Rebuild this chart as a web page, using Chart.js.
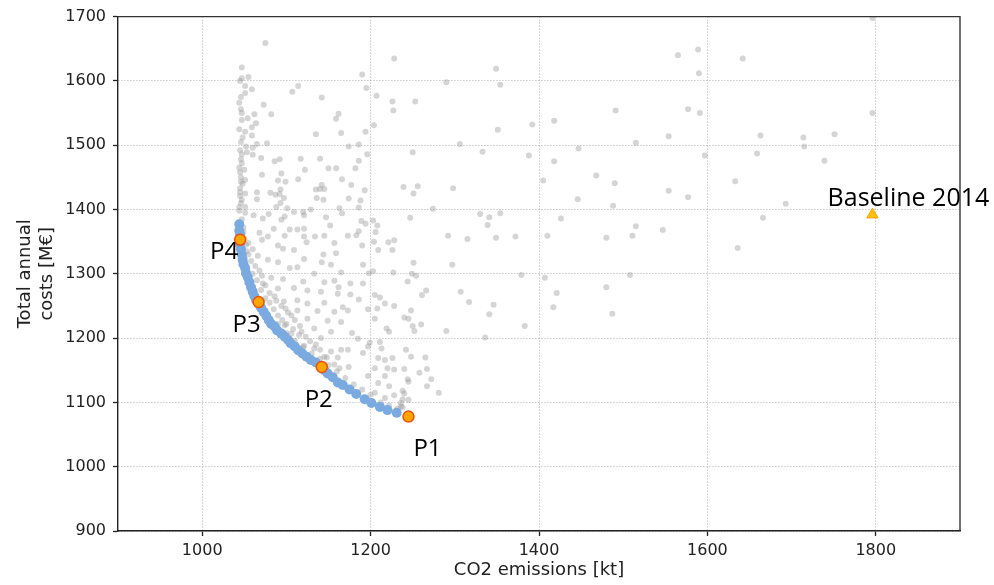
<!DOCTYPE html>
<html>
<head>
<meta charset="utf-8">
<script src="https://cdn.jsdelivr.net/npm/chart.js@4.4.1/dist/chart.umd.min.js"></script>
<style>
  body { margin: 0; background: #fff; }
</style>
</head>
<body>
<canvas id="chart" width="994" height="585"></canvas>
<script>
// ticks
var xTicks = [1000, 1200, 1400, 1600, 1800];
var yTicks = [900, 1000, 1100, 1200, 1300, 1400, 1500, 1600, 1700];

// highlighted solutions
var pLabels = ["P1", "P2", "P3", "P4"];
var pX = [1245, 1142, 1067, 1045];
var pY = [1078, 1155, 1256, 1353];

// baseline
var baseLabel = "Baseline 2014";
var baseX = [1796];
var baseY = [1392];

// pareto front
var paretoX = [1044, 1044, 1045, 1045, 1046, 1047, 1048, 1049, 1051, 1052, 1054, 1056, 1058, 1060, 1062, 1064,
  1068, 1070, 1073, 1076, 1079, 1082, 1086, 1089, 1094, 1098, 1102, 1105, 1110, 1114, 1119, 1124, 1129, 1135,
  1141, 1145, 1149, 1155, 1161, 1167, 1175, 1183, 1193, 1201, 1211, 1220, 1231];
var paretoY = [1377, 1367, 1361, 1346, 1338, 1330, 1322, 1315, 1309, 1301, 1295, 1287, 1279, 1272, 1265, 1259,
  1252, 1247, 1241, 1235, 1228, 1222, 1218, 1212, 1207, 1202, 1197, 1192, 1187, 1181, 1176, 1171, 1166, 1162,
  1156, 1150, 1145, 1139, 1131, 1127, 1120, 1113, 1105, 1099, 1093, 1088, 1084];

// all other evaluated solutions [CO2 kt, cost M€]
var others = [
  [1075,1659],[1047,1621],[1047,1604],[1055,1606],[1051,1592],[1059,1587],[1051,1581],[1114,1592],[1107,1583],
  [1142,1574],[1044,1566],[1073,1563],[1046,1556],[1062,1548],[1082,1548],[1054,1542],[1047,1539],[1064,1534],
  [1059,1528],[1051,1521],[1162,1549],[1159,1541],[1165,1519],[1135,1517],[1059,1515],[1046,1505],[1065,1502],
  [1077,1503],[1052,1498],[1060,1496],[1047,1486],[1053,1489],[1060,1485],[1070,1480],[1086,1475],[1092,1478],
  [1117,1479],[1140,1479],[1047,1472],[1122,1462],[1150,1464],[1159,1464],[1045,1458],[1050,1462],[1094,1456],
  [1071,1454],[1166,1447],[1090,1445],[1099,1443],[1114,1447],[1046,1443],[1051,1446],[1045,1433],[1142,1438],
  [1140,1432],[1145,1432],[1093,1431],[1065,1427],[1081,1426],[1087,1423],[1092,1424],[1045,1421],[1051,1425],
  [1065,1416],[1097,1418],[1136,1418],[1046,1410],[1093,1410],[1088,1404],[1044,1404],[1051,1404],[1101,1402],
  [1163,1402],[1079,1393],[1109,1396],[1120,1396],[1129,1400],[1051,1395],[1061,1391],[1072,1386],[1098,1389],
  [1121,1391],[1147,1388],[1166,1394],[1094,1384],[1152,1375],[1085,1370],[1104,1369],[1113,1369],[1049,1372],
  [1135,1431],[1144,1415],
  [1045,1600],[1046,1575],[1047,1550],[1044,1525],[1048,1512],[1045,1492],[1046,1478],[1044,1465],[1046,1450],
  [1048,1440],[1045,1427],[1047,1415],[1044,1398],[1047,1385],[1046,1378],[1049,1365],[1050,1355],[1052,1345],
  [1053,1335],
  [1121,1370],[1068,1364],[1078,1358],[1098,1359],[1121,1358],[1134,1358],[1145,1359],[1071,1353],[1090,1344],
  [1124,1349],[1157,1348],[1055,1348],[1060,1338],[1096,1339],[1109,1337],[1144,1330],[1121,1323],[1066,1328],
  [1078,1322],[1090,1318],[1142,1318],[1153,1314],[1104,1309],[1113,1310],[1133,1300],[1165,1302],[1071,1297],
  [1082,1294],[1096,1292],[1120,1288],[1145,1287],[1157,1289],[1075,1282],[1090,1277],[1109,1278],[1125,1274],
  [1141,1272],[1161,1269],[1086,1265],[1097,1257],[1113,1259],[1125,1254],[1145,1255],[1099,1246],[1113,1243],
  [1137,1242],[1157,1241],[1106,1235],[1125,1230],[1149,1227],[1165,1225],[1098,1220],[1116,1219],[1133,1215],
  [1153,1210],[1106,1207],[1123,1202],[1141,1200],[1121,1188],[1133,1184],[1153,1179],[1145,1171],[1161,1170],
  [1157,1159],
  [1060,1300],[1065,1290],[1070,1275],[1075,1262],[1080,1255],[1085,1245],[1090,1235],[1095,1228],[1100,1222],
  [1108,1214],[1115,1205],[1058,1320],[1055,1330],[1063,1312],[1068,1305],[1072,1285],[1080,1270],[1088,1258],
  [1094,1250],[1102,1240],[1110,1228],[1118,1210],[1128,1195],[1135,1190],[1140,1182],[1148,1170],
  [1090,1222],[1100,1208],[1110,1196],[1120,1186],[1130,1176],[1140,1168],[1150,1158],[1160,1148],[1170,1138],
  [1180,1128],[1190,1120],[1200,1112],[1212,1100],[1222,1095],[1232,1090],
  [1228,1635],[1190,1610],[1290,1598],[1195,1589],[1207,1577],[1226,1568],[1253,1568],[1227,1554],[1204,1531],
  [1194,1521],[1186,1501],[1174,1498],[1196,1486],[1250,1489],[1186,1476],[1182,1464],[1177,1438],[1193,1430],
  [1239,1435],[1256,1436],[1251,1425],[1298,1433],[1174,1417],[1188,1414],[1186,1403],[1274,1401],[1247,1387],
  [1189,1382],[1194,1378],[1203,1383],[1208,1375],[1186,1366],[1206,1365],
  [1173,1359],[1183,1360],[1204,1350],[1221,1349],[1228,1352],[1292,1359],[1190,1344],[1209,1337],[1226,1337],
  [1159,1332],[1251,1317],[1191,1314],[1198,1301],[1203,1304],[1227,1302],[1254,1297],[1249,1300],[1244,1288],
  [1266,1274],[1261,1267],[1297,1314],[1176,1285],[1191,1285],[1162,1279],[1176,1268],[1186,1260],[1205,1267],
  [1208,1246],[1211,1263],[1217,1254],[1228,1250],[1248,1243],[1245,1230],[1260,1221],[1252,1211],[1290,1211],
  [1167,1248],[1173,1243],[1197,1245],[1205,1230],[1219,1215],[1222,1210],[1178,1208],[1185,1199],[1199,1193],
  [1211,1194],[1213,1184],[1197,1187],[1173,1182],[1165,1182],[1191,1177],[1209,1169],[1217,1166],[1226,1169],
  [1242,1182],[1248,1171],[1265,1170],[1174,1155],[1163,1153],[1205,1153],[1220,1153],[1228,1151],[1240,1152],
  [1258,1146],[1267,1152],[1197,1141],[1217,1141],[1244,1136],[1272,1136],[1209,1130],[1222,1125],[1267,1125],
  [1228,1111],[1238,1118],[1281,1115],[1238,1105],[1217,1107],[1205,1115],[1236,1094],
  [1240,1232],[1250,1219],[1336,1201],[1245,1132],[1240,1114],[1245,1104],[1236,1099],[1238,1092],
  [1349,1619],[1354,1594],[1565,1640],[1589,1649],[1590,1612],[1642,1635],[1796,1698],[1491,1554],[1418,1538],
  [1392,1532],[1351,1524],[1577,1556],[1591,1550],[1796,1550],[1306,1502],[1333,1490],[1388,1484],[1418,1475],
  [1447,1495],[1515,1504],[1554,1514],[1597,1484],[1663,1515],[1659,1487],[1714,1512],[1715,1498],[1751,1517],
  [1739,1476],[1405,1445],[1468,1453],[1490,1441],[1554,1429],[1577,1419],[1633,1444],[1446,1416],[1488,1406],
  [1693,1409],[1666,1387],[1330,1393],[1341,1388],[1354,1394],[1339,1376],[1315,1354],[1349,1356],[1372,1358],
  [1410,1359],[1426,1386],[1480,1356],[1511,1359],[1515,1374],[1547,1368],[1636,1340],[1379,1298],[1407,1294],
  [1508,1298],[1307,1272],[1317,1256],[1346,1252],[1341,1237],[1421,1270],[1417,1248],[1480,1279],[1487,1238],
  [1383,1219]
];

document.addEventListener("DOMContentLoaded", function () {
  var canvas = document.getElementById("chart");

  // text offsets of the annotations (px, from their marker)
  var pOffsets = [[19, 33], [-3, 33], [-12, 23], [-16, 12]];
  var baseOffset = [36, -16];

  var frameAndLabels = {
    id: "frameAndLabels",
    afterDatasetsDraw(chart) {
      var ctx = chart.ctx;
      var a = chart.chartArea;
      var xs = chart.scales.x;
      var ys = chart.scales.y;
      ctx.save();
      ctx.strokeStyle = "#333";
      ctx.lineWidth = 1.4;
      ctx.beginPath();
      ctx.moveTo(a.left, a.top);
      ctx.lineTo(a.right, a.top);
      ctx.lineTo(a.right, a.bottom);
      ctx.stroke();

      ctx.fillStyle = "#000";
      ctx.textAlign = "center";
      ctx.textBaseline = "middle";
      ctx.font = '24px "Open Sans"';
      for (var i = 0; i < pLabels.length; i++) {
        ctx.fillText(pLabels[i], xs.getPixelForValue(pX[i]) + pOffsets[i][0], ys.getPixelForValue(pY[i]) + pOffsets[i][1]);
      }
      ctx.font = '25px "Open Sans"';
      ctx.fillText(baseLabel, xs.getPixelForValue(baseX[0]) + baseOffset[0], ys.getPixelForValue(baseY[0]) + baseOffset[1]);
      ctx.restore();
    }
  };

  var tickFont = { family: "DejaVu Sans", size: 16 };
  var titleFont = { family: "DejaVu Sans", size: 18, lineHeight: 1.25 };
  var plain = (v) => String(v);

  new Chart(canvas, {
    type: "scatter",
    data: {
      datasets: [
        {
          label: baseLabel,
          data: baseX.map((v, i) => ({ x: v, y: baseY[i] })),
          pointStyle: "triangle",
          pointRadius: 6.5,
          backgroundColor: "#FFC107",
          borderColor: "#F5A300",
          borderWidth: 1,
          order: 0
        },
        {
          label: "Selected",
          data: pX.map((v, i) => ({ x: v, y: pY[i] })),
          pointRadius: 5.5,
          backgroundColor: "#FFA500",
          borderColor: "#F0500F",
          borderWidth: 1.5,
          order: 1
        },
        {
          label: "Pareto front",
          data: paretoX.map((v, i) => ({ x: v, y: paretoY[i] })),
          pointRadius: 5,
          backgroundColor: "rgb(122,170,224)",
          borderWidth: 0,
          order: 2
        },
        {
          label: "Solutions",
          data: others.map(p => ({ x: p[0], y: p[1] })),
          pointRadius: 3,
          backgroundColor: "rgba(150,150,150,0.4)",
          borderWidth: 0,
          order: 3
        }
      ]
    },
    options: {
      responsive: false,
      animation: false,
      layout: { padding: { top: 12, right: 34, left: 0, bottom: 0 } },
      plugins: {
        legend: { display: false },
        tooltip: { enabled: false }
      },
      scales: {
        x: {
          type: "linear",
          min: 900,
          max: 1900,
          afterBuildTicks: (s) => { s.ticks = xTicks.map(v => ({ value: v })); },
          afterFit: (s) => { s.height = 54; },
          ticks: { font: tickFont, color: "#222", padding: 5, maxRotation: 0, callback: plain },
          grid: { color: "#b0b0b0", lineWidth: 1, tickColor: "#222", tickLength: 5, tickWidth: 1.3 },
          border: { color: "#222", width: 1.4, dash: [1, 2] },
          title: { display: true, text: "CO2 emissions [kt]", font: titleFont, color: "#222", padding: { top: 0, bottom: 3 } }
        },
        y: {
          type: "linear",
          min: 900,
          max: 1700,
          afterBuildTicks: (s) => { s.ticks = yTicks.map(v => ({ value: v })); },
          afterFit: (s) => { s.width = 118; },
          ticks: { font: tickFont, color: "#222", padding: 7, callback: plain },
          grid: { color: "#b0b0b0", lineWidth: 1, tickColor: "#222", tickLength: 5, tickWidth: 1.3 },
          border: { color: "#222", width: 1.4, dash: [1, 2] },
          title: { display: true, text: ["Total annual", "costs [M€]"], font: titleFont, color: "#222", padding: { top: 14, bottom: 0 } }
        }
      }
    },
    plugins: [frameAndLabels]
  });
});
</script>
</body>
</html>
